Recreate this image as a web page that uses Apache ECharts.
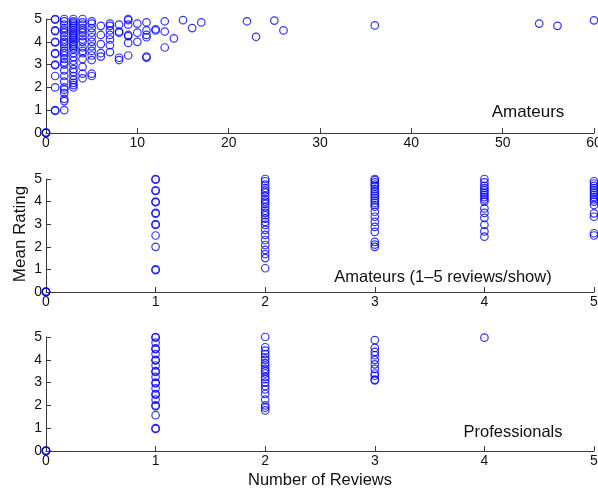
<!DOCTYPE html>
<html>
<head>
<meta charset="utf-8">
<script src="https://cdn.jsdelivr.net/npm/echarts@6/dist/echarts.min.js"></script>
<style>
  html, body { margin: 0; padding: 0; background: #fff; }
  #chart { width: 598px; height: 490px; }
</style>
</head>
<body>
<div id="chart"></div>
<script>
// review counts and the mean ratings seen at each count
const amateurCounts = [0, 1, 2, 3, 4, 5, 6, 7, 8, 9, 10, 11, 12, 13, 14, 15, 16, 17, 22, 23, 25, 26, 36, 54, 56, 60];
const amateurRatings = [
  [0, 0, 0, 0.03],
  [0.97, 1, 2, 2.5, 2.97, 3, 3.47, 3.5, 3.97, 4, 4.47, 4.5, 4.97, 5],
  [1, 1.4, 1.5, 1.75, 1.9, 2, 2.25, 2.5, 2.75, 3, 3.1, 3.25, 3.4, 3.5, 3.6, 3.75, 3.9, 4, 4.1, 4.25, 4.4, 4.5, 4.6, 4.75, 4.9, 5],
  [2, 2.1, 2.2, 2.33, 2.5, 2.67, 2.8, 3, 3.17, 3.33, 3.5, 3.67, 3.75, 3.83, 3.9, 4, 4.1, 4.17, 4.25, 4.33, 4.4, 4.5, 4.6, 4.67, 4.75, 4.83, 4.9, 5],
  [2.4, 2.6, 2.9, 3.25, 3.5, 3.6, 3.75, 4, 4.1, 4.25, 4.4, 4.5, 4.6, 4.75, 4.85, 5],
  [2.5, 2.6, 3.2, 3.4, 3.6, 3.8, 4, 4.2, 4.4, 4.6, 4.8, 4.9],
  [3.35, 3.5, 3.9, 4.3, 4.7],
  [3.55, 3.85, 4.1, 4.3, 4.5, 4.7, 4.8],
  [3.2, 3.3, 4.4, 4.45, 4.75],
  [3.4, 3.95, 4.25, 4.3, 4.75, 4.95, 5],
  [4, 4.4, 4.8],
  [3.3, 3.35, 4.2, 4.3, 4.5, 4.85],
  [4.5, 4.55],
  [3.75, 4.45, 4.9],
  [4.15],
  [4.95],
  [4.6],
  [4.85],
  [4.9],
  [4.22],
  [4.93],
  [4.5],
  [4.72],
  [4.8],
  [4.7],
  [4.94]
];

const fewCounts = [0, 1, 2, 3, 4, 5];
const fewRatings = [
  [0, 0, 0, 0.03],
  [0.97, 1, 2, 2.5, 2.97, 3, 3.47, 3.5, 3.97, 4, 4.47, 4.5, 4.97, 5],
  [1.05, 1.5, 1.68, 1.86, 2.08, 2.3, 2.53, 2.75, 2.97, 3.1, 3.25, 3.4, 3.5, 3.6, 3.75, 3.9, 4, 4.1, 4.25, 4.4, 4.5, 4.6, 4.75, 4.9, 5],
  [2, 2.1, 2.22, 2.66, 2.88, 3.1, 3.33, 3.55, 3.77, 3.85, 3.95, 4.05, 4.15, 4.25, 4.33, 4.45, 4.55, 4.67, 4.75, 4.85, 4.95, 5],
  [2.45, 2.68, 2.97, 3.28, 3.5, 3.7, 4, 4.1, 4.2, 4.3, 4.4, 4.5, 4.6, 4.7, 4.85, 5],
  [2.5, 2.6, 3.33, 3.48, 3.85, 4, 4.1, 4.2, 4.3, 4.4, 4.5, 4.6, 4.7, 4.8, 4.9]
];

const proCounts = [0, 1, 2, 3, 4];
const proRatings = [
  [0, 0, 0, 0.03],
  [0.97, 1, 1.57, 1.97, 2, 2.25, 2.47, 2.5, 2.75, 2.97, 3, 3.25, 3.47, 3.5, 3.75, 3.97, 4, 4.25, 4.47, 4.5, 4.75, 4.97, 5],
  [1.78, 1.9, 2, 2.25, 2.5, 2.7, 2.85, 3, 3.15, 3.25, 3.4, 3.5, 3.6, 3.75, 3.85, 4, 4.1, 4.25, 4.4, 4.55, 5],
  [3.1, 3.13, 3.3, 3.4, 3.6, 3.8, 4, 4.2, 4.35, 4.52, 4.86],
  [4.97]
];

const ratingTicks = [0, 1, 2, 3, 4, 5];

const toPoints = (counts, ratings) => {
  const pts = [];
  counts.forEach((c, i) => ratings[i].forEach(r => pts.push([c, r])));
  return pts;
};

const FONT = '"Liberation Sans", Arial, Helvetica, sans-serif';
const INK = '#111';

const chart = echarts.init(document.getElementById('chart'));

const xAxisBase = (gridIndex, max, interval) => ({
  type: 'value',
  gridIndex,
  min: 0,
  max,
  interval,
  axisLine: { show: true, onZero: false, lineStyle: { color: '#3a3a3a', width: 1 } },
  axisTick: { show: true, inside: true, length: 5, lineStyle: { color: '#3a3a3a' } },
  axisLabel: { color: INK, fontSize: 14, fontFamily: FONT, margin: 3, showMinLabel: true, showMaxLabel: true },
  splitLine: { show: false }
});

const yAxisBase = (gridIndex) => ({
  type: 'value',
  gridIndex,
  min: ratingTicks[0],
  max: ratingTicks[ratingTicks.length - 1],
  interval: 1,
  axisLine: { show: true, onZero: false, lineStyle: { color: '#3a3a3a', width: 1 } },
  axisTick: { show: true, inside: true, length: 5, lineStyle: { color: '#3a3a3a' } },
  axisLabel: { color: INK, fontSize: 14, fontFamily: FONT, margin: 4 },
  splitLine: { show: false }
});

const circles = (xi, data) => ({
  type: 'scatter',
  xAxisIndex: xi,
  yAxisIndex: xi,
  data,
  symbol: 'circle',
  symbolSize: 7.5,
  clip: false,
  itemStyle: { color: 'rgba(0,0,0,0)', borderColor: '#0000ff', borderWidth: 1.2 },
  emphasis: { disabled: true }
});

const label = (text, x, y, size, rotation) => ({
  type: 'text',
  x, y,
  rotation: rotation || 0,
  style: {
    text,
    font: size + 'px ' + FONT,
    fill: INK,
    align: 'center',
    verticalAlign: 'middle'
  }
});

const gridBase = { left: 46, right: 4, outerBoundsMode: 'none', containLabel: false };

chart.setOption({
  animation: false,
  grid: [
    Object.assign({ top: 19, height: 114 }, gridBase),
    Object.assign({ top: 179, height: 113 }, gridBase),
    Object.assign({ top: 337, height: 114 }, gridBase)
  ],
  xAxis: [xAxisBase(0, 60, 10), xAxisBase(1, 5, 1), xAxisBase(2, 5, 1)],
  yAxis: [yAxisBase(0), yAxisBase(1), yAxisBase(2)],
  series: [
    circles(0, toPoints(amateurCounts, amateurRatings)),
    circles(1, toPoints(fewCounts, fewRatings)),
    circles(2, toPoints(proCounts, proRatings))
  ],
  graphic: [
    label('Amateurs', 528, 112, 17),
    label('Amateurs (1\u20135 reviews/show)', 443, 277, 16.5),
    label('Professionals', 513, 432, 16.5),
    label('Mean Rating', 20, 234, 17, Math.PI / 2),
    label('Number of Reviews', 320, 480, 16.5)
  ]
});
</script>
</body>
</html>
